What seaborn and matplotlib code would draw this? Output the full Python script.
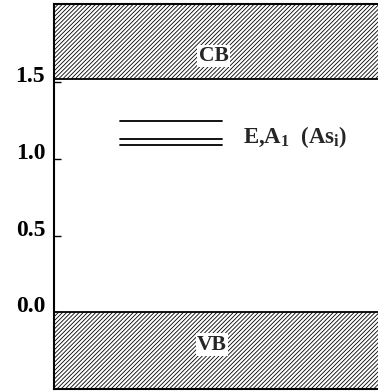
import matplotlib
matplotlib.use("Agg")
import matplotlib.pyplot as plt
import seaborn as sns
import pandas as pd

# Energy scale (eV) and band edges
yticks = [0.0, 0.5, 1.0, 1.5]
ytick_labels = ["0.0", "0.5", "1.0", "1.5"]
vb_top = 0.0
cb_bottom = 1.52
y_min, y_max = -0.5, 2.01

# Defect levels of the As interstitial
level_energies = [1.25, 1.13, 1.09]
level_x_start = [0.205, 0.205, 0.205]
level_x_end = [0.515, 0.515, 0.515]
level_label = r"E,A$_1$  (As$_\mathrm{i}$)"

sns.set_style("white")
plt.rcParams["font.family"] = ["Liberation Serif", "DejaVu Serif"]
plt.rcParams["font.weight"] = "bold"
plt.rcParams["mathtext.fontset"] = "custom"
plt.rcParams["mathtext.rm"] = "Liberation Serif:bold"
plt.rcParams["mathtext.it"] = "Liberation Serif:bold"
plt.rcParams["mathtext.bf"] = "Liberation Serif:bold"
plt.rcParams["hatch.linewidth"] = 0.6

fig = plt.figure(figsize=(3.78, 3.92), dpi=100)
ax = fig.add_axes([53.5 / 378, 3.0 / 392, (380 - 53.5) / 378, (388 - 3.0) / 392])

# Bands
ax.axhspan(cb_bottom, y_max + 1, facecolor="white", edgecolor="black",
           hatch="////////", linewidth=0)
ax.axhspan(y_min - 1, vb_top, facecolor="white", edgecolor="black",
           hatch="////////", linewidth=0)
ax.axhline(cb_bottom, color="black", lw=1.3)
ax.axhline(vb_top, color="black", lw=1.3)

# Defect levels
rows = []
for i, e in enumerate(level_energies):
    rows.append({"x": level_x_start[i], "E": e, "lvl": i})
    rows.append({"x": level_x_end[i], "E": e, "lvl": i})
df = pd.DataFrame(rows)
sns.lineplot(data=df, x="x", y="E", units="lvl", estimator=None,
             color="black", lw=1.3, ax=ax)

ax.text(0.58, 1.14, level_label, fontsize=16.5, fontweight="bold",
        va="center", ha="left")

box = dict(facecolor="white", edgecolor="none", pad=1.0)
ax.text(0.49, 1.67, "CB", fontsize=15.5, ha="center", va="center", bbox=box)
ax.text(0.485, -0.21, "VB", fontsize=15.5, ha="center", va="center", bbox=box)

ax.set_xlim(0, 1)
ax.set_ylim(y_min, y_max)
ax.set_xticks([])
ax.set_yticks(yticks)
ax.set_yticklabels(ytick_labels, fontsize=17, fontweight="bold",
                   va="baseline")
ax.tick_params(axis="y", direction="in", length=5, width=1.0, pad=6,
               left=True, colors="black")
ax.set_xlabel("")
ax.set_ylabel("")
for side in ["left", "top", "bottom"]:
    ax.spines[side].set_linewidth(1.5)
    ax.spines[side].set_color("black")
ax.spines["right"].set_visible(False)

fig.savefig("out.png", dpi=100)
